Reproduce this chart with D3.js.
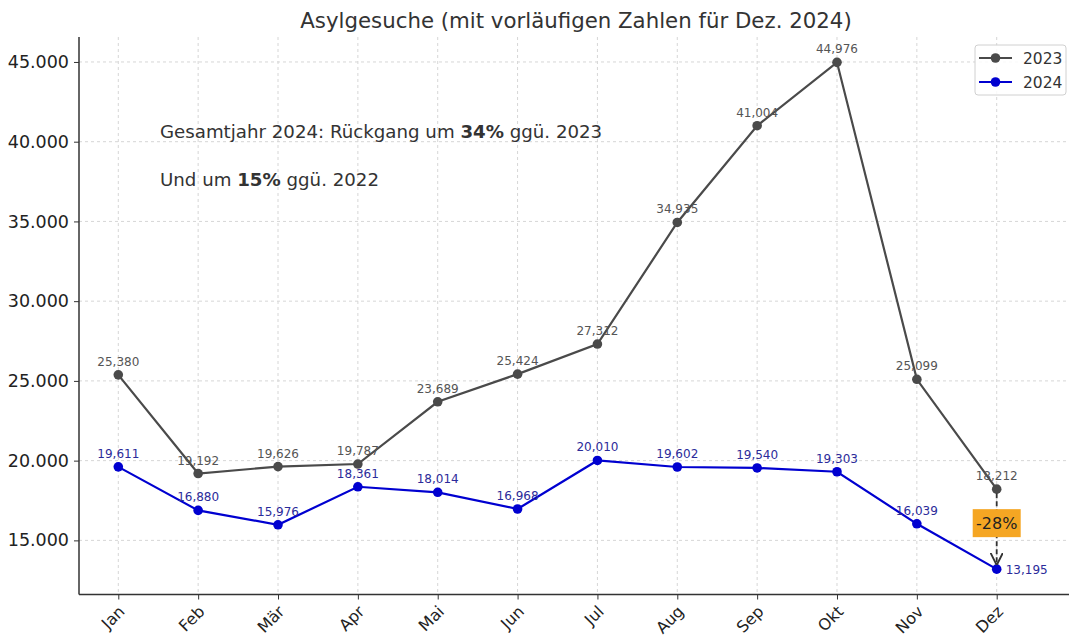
<!DOCTYPE html>
<html><head><meta charset="utf-8">
<script src="https://cdn.jsdelivr.net/npm/d3@7"></script>
<style>body{margin:0;background:#fff;} svg{display:block;font-family:"DejaVu Sans",sans-serif;}</style>
</head><body>
<svg id="c" width="1069" height="637"></svg>
<script>
const months = ["Jan","Feb","Mär","Apr","Mai","Jun","Jul","Aug","Sep","Okt","Nov","Dez"];
const values2023 = [25380,19192,19626,19787,23689,25424,27312,34935,41004,44976,25099,18212];
const values2024 = [19611,16880,15976,18361,18014,16968,20010,19602,19540,19303,16039,13195];
const yTicks = [15000,20000,25000,30000,35000,40000,45000];
const seriesNames = ["2023","2024"];
const titleText = "Asylgesuche (mit vorläufigen Zahlen für Dez. 2024)";
const changeLabel = "-28%";

const svg = d3.select("#c");
const L = 79, B = 594.5, T = 37;
const x = d3.scaleLinear().domain([0, 11]).range([118.3, 996.7]);
const y = d3.scaleLinear().domain([11606, 46565]).range([B, T]);
const fmtTick = v => d3.format(",")(v).replace(/,/g, ".");
const fmtLbl = d3.format(",");

// grid
const g = svg.append("g");
g.selectAll(".gx").data(months).join("line")
  .attr("x1",(d,i)=>x(i)).attr("x2",(d,i)=>x(i)).attr("y1",T).attr("y2",B)
  .attr("stroke","#d6d6d6").attr("stroke-dasharray","3,3").attr("stroke-width",1);
g.selectAll(".gy").data(yTicks).join("line")
  .attr("x1",L).attr("x2",1069).attr("y1",d=>y(d)).attr("y2",d=>y(d))
  .attr("stroke","#d6d6d6").attr("stroke-dasharray","3,3").attr("stroke-width",1);

// axes
const yAxis = d3.axisLeft(y).tickValues(yTicks).tickFormat(fmtTick).tickSize(5).tickPadding(5);
const ya = svg.append("g").attr("transform",`translate(${L},0)`).call(yAxis);
ya.select(".domain").remove();
ya.selectAll("text").attr("font-size",17.5).attr("fill","#222").attr("font-family","DejaVu Sans");
ya.selectAll("line").attr("stroke","#333");
svg.append("line").attr("x1",L).attr("x2",L).attr("y1",T).attr("y2",B).attr("stroke","#333").attr("stroke-width",1.5);

const xAxis = d3.axisBottom(x).tickValues(d3.range(12)).tickFormat(i=>months[i]).tickSize(5).tickPadding(6);
const xa = svg.append("g").attr("transform",`translate(0,${B})`).call(xAxis);
xa.select(".domain").remove();
xa.selectAll("line").attr("stroke","#333");
xa.selectAll("text").attr("font-size",16).attr("fill","#222").attr("font-family","DejaVu Sans")
  .attr("text-anchor","end").attr("x",0).attr("y",0).attr("dy","0")
  .attr("transform","translate(7,18) rotate(-45)");
svg.append("line").attr("x1",L).attr("x2",1069).attr("y1",B).attr("y2",B).attr("stroke","#333").attr("stroke-width",1.5);

// title
svg.append("text").attr("x",576).attr("y",28).attr("text-anchor","middle")
  .attr("font-size",21.3).attr("fill","#333").text(titleText);

// lines
const line = d3.line().x((d,i)=>x(i)).y(d=>y(d));
const series = [
  {name:seriesNames[0], vals:values2023, color:"#4a4a4a", lbl:"#555"},
  {name:seriesNames[1], vals:values2024, color:"#0000d0", lbl:"#2b2b9a"}
];
series.forEach(s=>{
  svg.append("path").datum(s.vals).attr("d",line).attr("fill","none")
    .attr("stroke",s.color).attr("stroke-width",2.2);
  svg.selectAll(null).data(s.vals).join("circle")
    .attr("cx",(d,i)=>x(i)).attr("cy",d=>y(d)).attr("r",4.8).attr("fill",s.color);
});

// data labels
svg.selectAll(null).data(values2023).join("text")
  .attr("x",(d,i)=>x(i)).attr("y",d=>y(d)-9).attr("text-anchor","middle")
  .attr("font-size",12).attr("fill","#555").text(d=>fmtLbl(d));
svg.selectAll(null).data(values2024).join("text")
  .attr("x",(d,i)=> i===11 ? x(i)+9 : x(i)).attr("y",(d,i)=> i===11 ? y(d)+4.5 : y(d)-9)
  .attr("text-anchor",(d,i)=> i===11 ? "start" : "middle")
  .attr("font-size",12).attr("fill","#2b2b9a").text(d=>fmtLbl(d));

// arrow Dez
const xd = x(11);
svg.append("defs").append("marker").attr("id","ah").attr("viewBox","0 0 10 10")
  .attr("refX",10).attr("refY",5).attr("markerWidth",7).attr("markerHeight",7).attr("orient","auto")
  .append("path").attr("d","M0,0 L10,5 L0,10").attr("fill","none").attr("stroke","#333").attr("stroke-width",1.5);
svg.append("line").attr("x1",xd).attr("x2",xd).attr("y1",y(values2023[11])+4).attr("y2",y(values2024[11])-4)
  .attr("stroke","#333").attr("stroke-width",1.8).attr("stroke-dasharray","5,3").attr("marker-end","url(#ah)");
const midY = y((values2023[11]+values2024[11])/2) - 6;
svg.append("rect").attr("x",xd-24).attr("y",midY-14).attr("width",48).attr("height",28)
  .attr("fill","#f5a623");
svg.append("text").attr("x",xd).attr("y",midY+6).attr("text-anchor","middle")
  .attr("font-size",16).attr("fill","#222").text(changeLabel);

// annotations
const a1 = svg.append("text").attr("x",160).attr("y",138).attr("font-size",18.2).attr("fill","#333");
a1.append("tspan").text("Gesamtjahr 2024: Rückgang um ");
a1.append("tspan").attr("font-weight","bold").text("34%");
a1.append("tspan").text(" ggü. 2023");
const a2 = svg.append("text").attr("x",160).attr("y",186).attr("font-size",18.2).attr("fill","#333");
a2.append("tspan").text("Und um ");
a2.append("tspan").attr("font-weight","bold").text("15%");
a2.append("tspan").text(" ggü. 2022");

// legend
const lg = svg.append("g").attr("transform","translate(975,45)");
lg.append("rect").attr("width",91).attr("height",50).attr("rx",3)
  .attr("fill","#fff").attr("fill-opacity",0.85).attr("stroke","#d0d0d0");
series.forEach((s,i)=>{
  const yy = 13 + i*24;
  lg.append("line").attr("x1",4).attr("x2",37).attr("y1",yy).attr("y2",yy).attr("stroke",s.color).attr("stroke-width",2.2);
  lg.append("circle").attr("cx",20.5).attr("cy",yy).attr("r",4.8).attr("fill",s.color);
  lg.append("text").attr("x",48).attr("y",yy+5.5).attr("font-size",15.5).attr("fill","#333").text(s.name);
});
</script>
</body></html>
